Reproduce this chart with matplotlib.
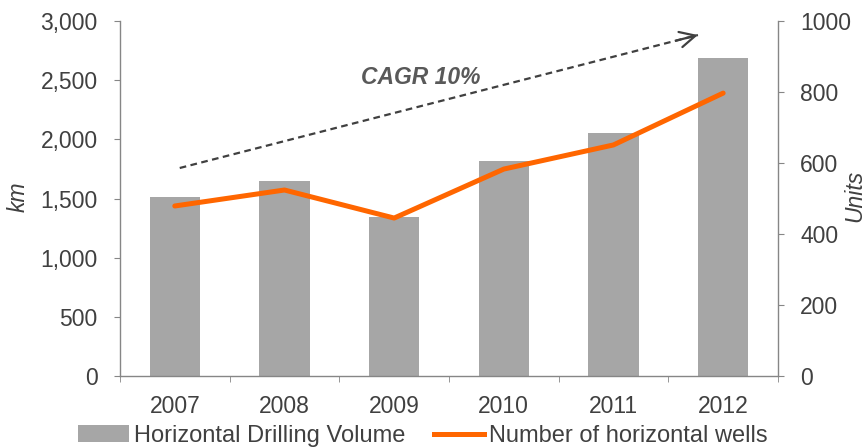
import matplotlib
matplotlib.use("Agg")
import matplotlib.pyplot as plt
from matplotlib.patches import Patch
from matplotlib.lines import Line2D
import numpy as np

plt.rcParams['font.family'] = ['Liberation Sans', 'DejaVu Sans']

years = ['2007', '2008', '2009', '2010', '2011', '2012']
drilling_km = [1513, 1648, 1344, 1817, 2054, 2688]
wells = [479, 524, 445, 583, 651, 797]

bar_color = '#A6A6A6'
line_color = '#FF6600'
text_color = '#404040'
spine_color = '#868686'
FS = 16.5

fig = plt.figure(figsize=(8.68, 4.48), dpi=100)
ax = fig.add_axes([0.1382, 0.1607, 0.8963 - 0.1382, 0.953 - 0.1607])
ax2 = ax.twinx()

x = np.arange(len(years))
ax.bar(x, drilling_km, width=0.46, color=bar_color, zorder=2)
ax2.plot(x, wells, color=line_color, lw=3.6, solid_capstyle='round', solid_joinstyle='round', zorder=3)

ax.set_xlim(-0.5, len(years) - 0.5)
ax.set_ylim(0, 3000)
ax2.set_ylim(0, 1000)
ax.set_yticks(np.arange(0, 3001, 500))
ax.set_yticklabels([f'{v:,}' for v in range(0, 3001, 500)])
ax2.set_yticks(np.arange(0, 1001, 200))

ax.set_xticks(x)
ax.set_xticklabels(years)
ax.set_xticks(np.arange(-0.5, len(years), 1.0), minor=True)
ax.tick_params(axis='x', which='major', length=0, pad=14, labelsize=FS, labelcolor=text_color)
ax.tick_params(axis='x', which='minor', length=4.5, color=spine_color, direction='out')
ax.tick_params(axis='y', length=4, color=spine_color, labelsize=FS, labelcolor=text_color, pad=12)
ax2.tick_params(axis='y', length=4, color=spine_color, labelsize=FS, labelcolor=text_color, pad=12)

for a in (ax, ax2):
    a.spines['top'].set_visible(False)
    for s in ('left', 'right', 'bottom'):
        a.spines[s].set_color(spine_color)
        a.spines[s].set_linewidth(1.0)
ax.spines['right'].set_visible(False)
ax2.spines['left'].set_visible(False)
ax2.spines['bottom'].set_visible(False)

fig.text(18 / 868, 1 - 197 / 448, 'km', fontsize=FS, style='italic', color=text_color,
         rotation=90, ha='center', va='center')
fig.text(855 / 868, 1 - 196 / 448, 'Units', fontsize=FS, style='italic', color=text_color,
         rotation=90, ha='center', va='center')

# CAGR arrow (dashed shaft + solid open head)
x0, y0, x1, y1 = 0.045, 1758, 4.77, 2882
ax.plot([x0, x1], [y0, y1], color='#404040', lw=1.6, linestyle=(0, (3, 2)), zorder=4)
ax.annotate('', xy=(x1, y1), xytext=(x1 - 0.2, y1 - 0.2 * (y1 - y0) / (x1 - x0)),
            arrowprops=dict(arrowstyle='->', color='#404040', lw=1.6,
                            mutation_scale=28, shrinkA=0, shrinkB=0), zorder=4)
ax.text(2.245, 2527, 'CAGR 10%', fontsize=FS, fontweight='bold', style='italic',
        color='#595959', ha='center', va='center', zorder=5)

handles = [Patch(facecolor=bar_color, edgecolor='none'),
           Line2D([0], [0], color=line_color, lw=3.6)]
fig.legend(handles, ['Horizontal Drilling Volume', 'Number of horizontal wells'],
           loc='center', bbox_to_anchor=(423 / 868, 1 - 436 / 448), ncol=2, frameon=False,
           fontsize=17, labelcolor=text_color, handlelength=2.15, handletextpad=0.2,
           columnspacing=1.2, handleheight=0.7, borderpad=0)

fig.savefig('out.png', dpi=100)
